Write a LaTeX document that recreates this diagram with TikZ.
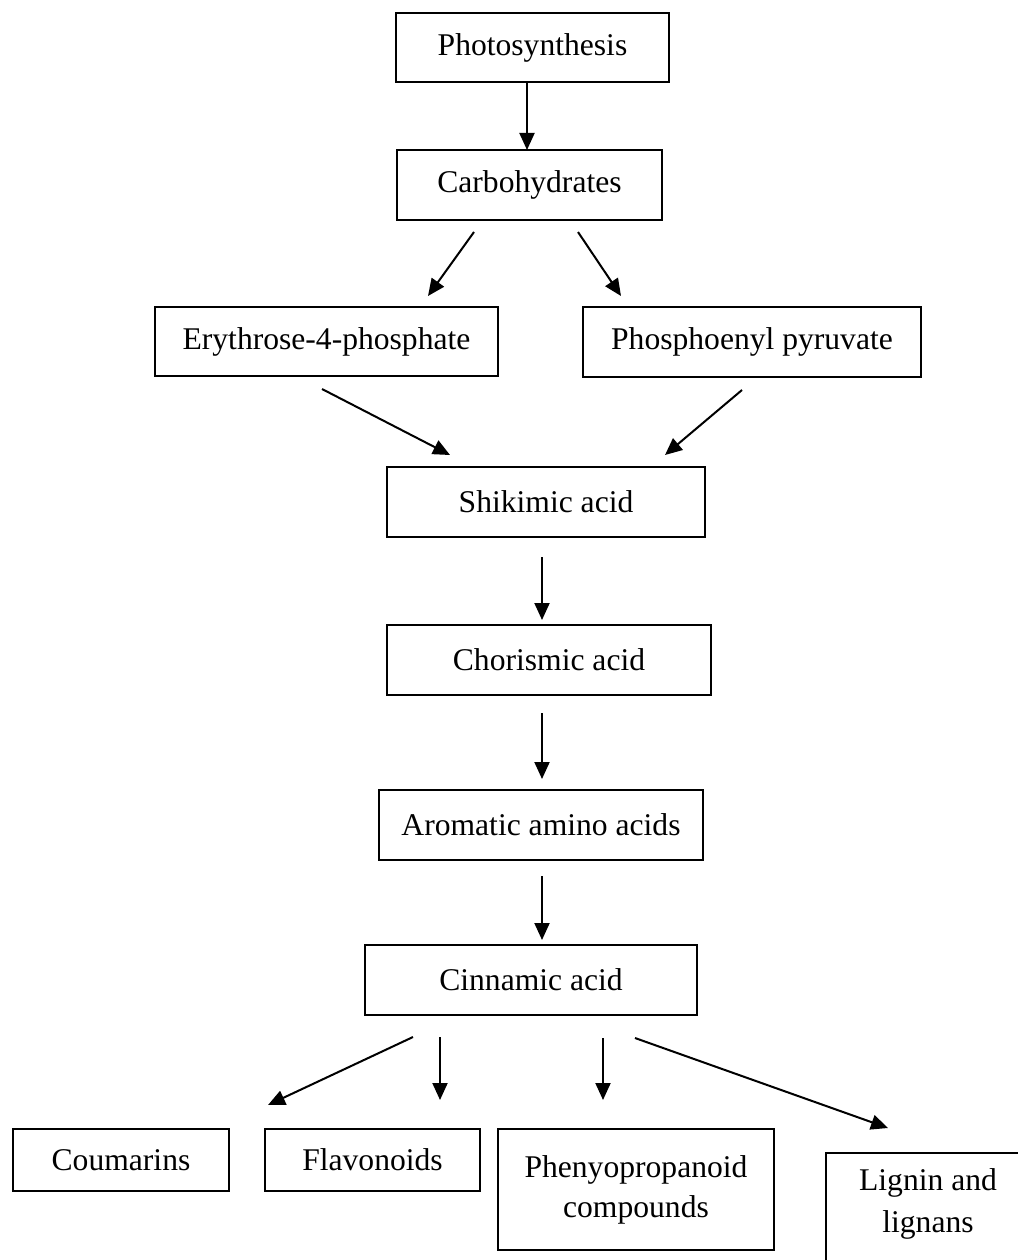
\documentclass[tikz,border=0pt]{standalone}
\usepackage{fontspec}
\setmainfont{Liberation Serif}
\usetikzlibrary{arrows.meta}
\begin{document}
\begin{tikzpicture}[x=1pt,y=-1pt,
  box/.style={draw, line width=2pt, inner sep=0pt, align=center, font=\fontsize{31.6}{40}\selectfont},
  txt/.style={inner sep=0pt, align=center, font=\fontsize{31.6}{42}\selectfont},
  arr/.style={line width=2pt, -{Triangle[length=17pt,width=15pt]}}]
\useasboundingbox (0,0) rectangle (1017,1260);
\node[box, minimum width=273, minimum height=69] (photo) at (532.5,47.5) {Photosynthesis};
\node[box, minimum width=265, minimum height=70] (carb) at (529.5,185) {Carbohydrates};
\node[box, minimum width=343, minimum height=69] (ery) at (326.5,341.5) {Erythrose-4-phosphate};
\node[box, minimum width=338, minimum height=70] (phos) at (752,342) {Phosphoenyl pyruvate};
\node[box, minimum width=318, minimum height=70] (shik) at (546,502) {Shikimic acid};
\node[box, minimum width=324, minimum height=70] (chor) at (549,660) {Chorismic acid};
\node[box, minimum width=324, minimum height=70] (arom) at (541,825) {Aromatic amino acids};
\node[box, minimum width=332, minimum height=70] (cinn) at (531,980) {Cinnamic acid};
\node[box, minimum width=216, minimum height=62] (coum) at (121,1160) {Coumarins};
\node[box, minimum width=215, minimum height=62] (flav) at (372.5,1160) {Flavonoids};
\node[box, minimum width=276, minimum height=121] (phen) at (636,1189.5) {Phenyopropanoid\\compounds};
\node[txt] (lig) at (928,1204) {Lignin and\\lignans};
\draw[line width=2pt] (826,1300) |- (1060,1153);
% connectors
\coordinate (c1s) at (527,83);  \coordinate (c1e) at (527,150);
\coordinate (c2s) at (474,232); \coordinate (c2e) at (428,296);
\coordinate (c3s) at (578,232); \coordinate (c3e) at (621,296);
\coordinate (c4s) at (322,389); \coordinate (c4e) at (450,455);
\coordinate (c5s) at (742,390); \coordinate (c5e) at (665,455);
\coordinate (c6s) at (542,557); \coordinate (c6e) at (542,620);
\coordinate (c7s) at (542,713); \coordinate (c7e) at (542,779);
\coordinate (c8s) at (542,876); \coordinate (c8e) at (542,940);
\coordinate (c9s) at (413,1037); \coordinate (c9e) at (268,1105);
\coordinate (c10s) at (440,1037); \coordinate (c10e) at (440,1100);
\coordinate (c11s) at (603,1038); \coordinate (c11e) at (603,1100);
\coordinate (c12s) at (635,1038); \coordinate (c12e) at (888,1128);
\foreach \i in {1,...,12} {\draw[arr] (c\i s) -- (c\i e);}
\end{tikzpicture}
\end{document}
